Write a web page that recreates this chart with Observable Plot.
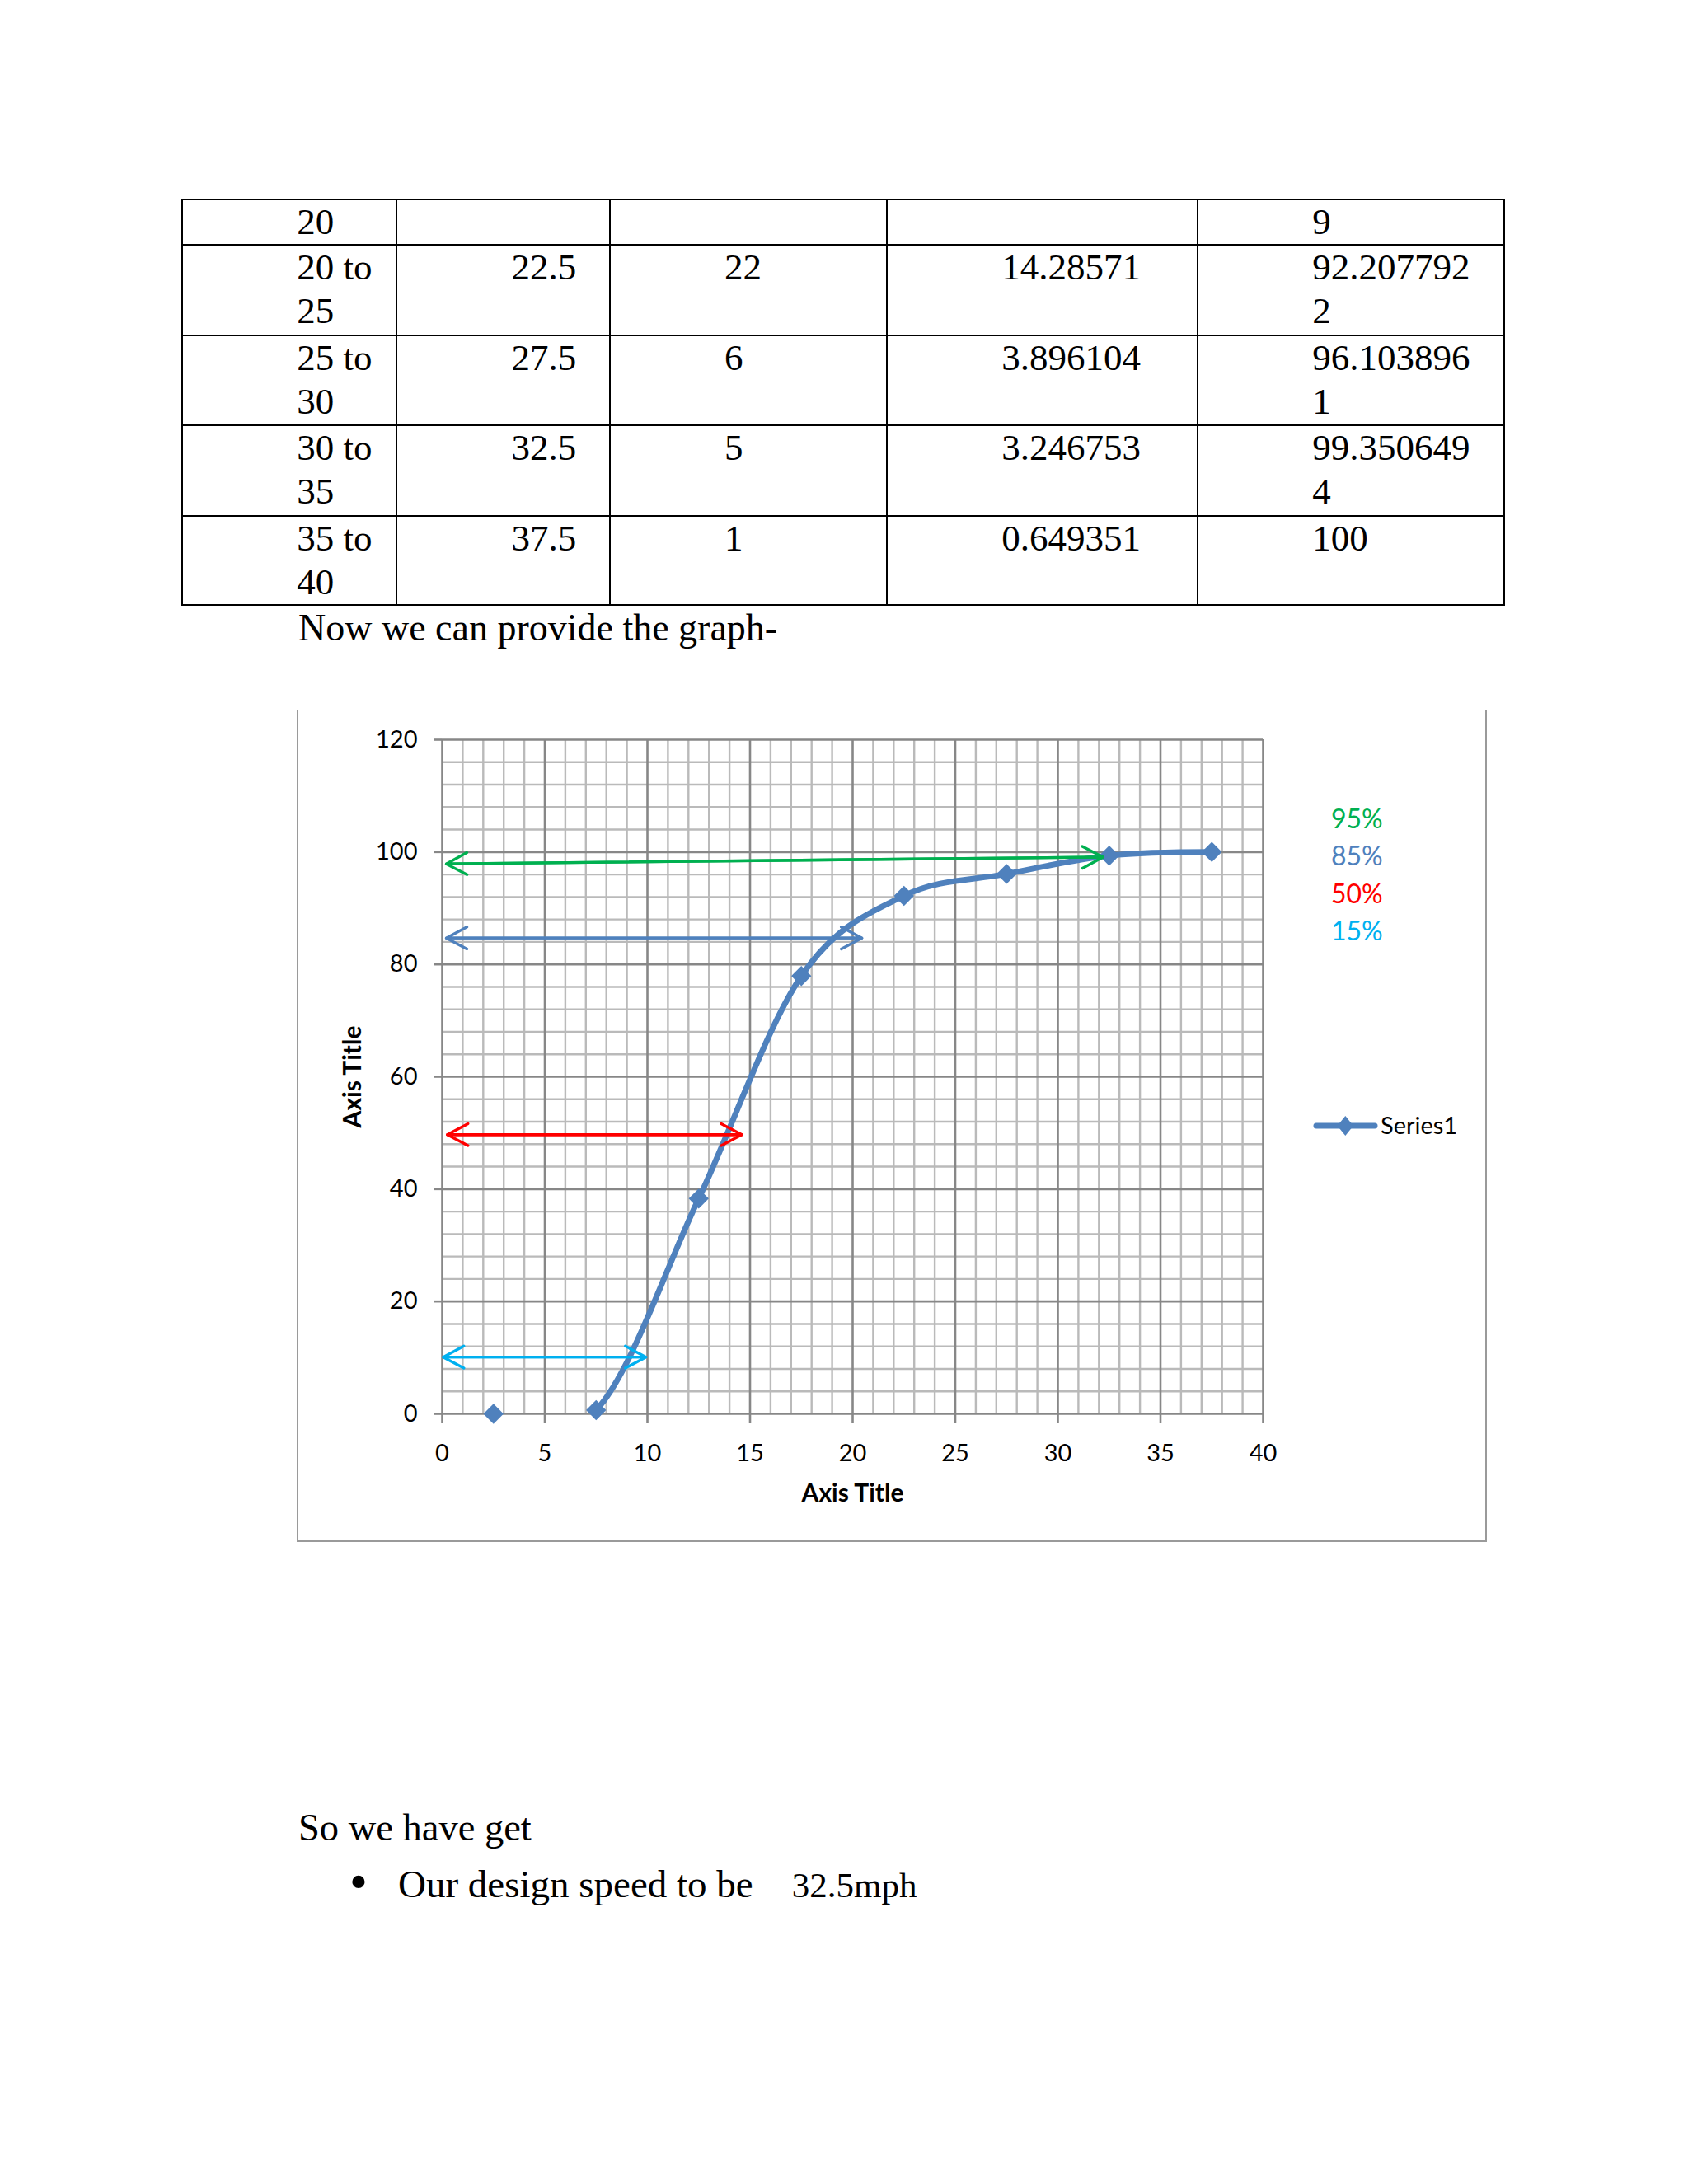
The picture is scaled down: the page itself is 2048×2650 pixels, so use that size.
<!DOCTYPE html>
<html>
<head>
<meta charset="utf-8">
<script src="https://cdn.jsdelivr.net/npm/d3@7"></script>
<script src="https://cdn.jsdelivr.net/npm/@observablehq/plot@0.6"></script>
<style>
html, body { margin: 0; padding: 0; background: #fff; }
#page { position: relative; width: 2048px; height: 2650px; overflow: hidden; background: #fff; }
table.data {
  position: absolute; left: 220.15px; top: 240.95px;
  border-collapse: collapse; table-layout: fixed; width: 1603.8px;
  font-family: 'Liberation Serif', 'Times New Roman', serif; font-size: 45px; line-height: 53px; color: #000;
}
table.data td {
  font-family: 'Liberation Serif', 'Times New Roman', serif !important;
  font-size: 45px; line-height: 53px;
  border: 2.5px solid #000; padding: 0 0 0 138px; vertical-align: top;
  overflow-wrap: anywhere; word-break: normal; white-space: normal;
}
table.data td.last { padding-right: 31px; }
#box {
  position: absolute; left: 360.4px; top: 862px; width: 1443.6px; height: 1009.3px; box-sizing: border-box;
  border-left: 2.6px solid #9a9a9a; border-right: 2.6px solid #9a9a9a; border-bottom: 2.6px solid #9a9a9a;
}
#chart { position: absolute; left: 361.7px; top: 862px; }
#overlay { position: absolute; left: 0; top: 0; pointer-events: none; }
</style>
</head>
<body>
<div id="page">
  <table class="data" id="tbl"></table>
  <div id="box"></div>
  <div id="chart"></div>
  <svg id="overlay" width="2048" height="2650" xmlns="http://www.w3.org/2000/svg"></svg>
</div>
<script>
// ---- table values (read from the page) ----
const rangeCol = ["20", "20 to 25", "25 to 30", "30 to 35", "35 to 40"];
const midCol   = ["", "22.5", "27.5", "32.5", "37.5"];
const freqCol  = ["", "22", "6", "5", "1"];
const pctCol   = ["", "14.28571", "3.896104", "3.246753", "0.649351"];
const cumCol   = ["9", "92.2077922", "96.1038961", "99.3506494", "100"];

// ---- chart series (cumulative % vs class mid speed) ----
const speeds     = [2.5, 7.5, 12.5, 17.5, 22.5, 27.5, 32.5, 37.5];
const cumulative = [0, 0.649351, 38.311688, 77.922078, 92.207792, 96.103896, 99.350649, 100];

// ---- percentile arrows ----
const arrowLabels = ["95%", "85%", "50%", "15%"];
const arrowColors = ["#00B050", "#4F81BD", "#FF0000", "#00B0F0"];
const arrowStartX = [0.2, 0.2, 0.25, 0.05];
const arrowEndX   = [32.2, 20.45, 14.6, 9.93];
const arrowStartY = [97.9, 84.7, 49.7, 10.1];
const arrowEndY   = [99.1, 84.7, 49.7, 10.1];

// ---- ticks ----
const xMajor = [0, 5, 10, 15, 20, 25, 30, 35, 40];
const yMajor = [0, 20, 40, 60, 80, 100, 120];
const xMinor = d3.range(1, 40).filter(v => v % 5 !== 0);
const yMinor = d3.range(4, 120, 4).filter(v => v % 20 !== 0);

const seriesName = "Series1";
const xTitle = "Axis Title";
const yTitle = "Axis Title";

// ---- build table ----
const tbl = document.getElementById("tbl");
const colW = [260.3, 258.5, 336.3, 376.9, 371.8];
const rowH = [55.5, 110, 108.5, 110, 108];
const cg = document.createElement("colgroup");
colW.forEach(w => { const c = document.createElement("col"); c.style.width = w + "px"; cg.appendChild(c); });
tbl.appendChild(cg);
rangeCol.forEach((r, i) => {
  const tr = document.createElement("tr");
  tr.style.height = rowH[i] + "px";
  [r, midCol[i], freqCol[i], pctCol[i], cumCol[i]].forEach((v, j) => {
    const td = document.createElement("td");
    if (j === 4) td.className = "last";
    td.textContent = v;
    tr.appendChild(td);
  });
  tbl.appendChild(tr);
});

// ---- chart ----
const points = speeds.map((s, i) => ({x: s, y: cumulative[i]}));
const arrows = arrowLabels.map((l, i) => ({
  label: l, color: arrowColors[i],
  x1: arrowStartX[i], y1: arrowStartY[i], x2: arrowEndX[i], y2: arrowEndY[i]
}));

const majorColor = "#878787";
const minorColor = "#BABABA";
const seriesColor = "#4F81BD";

const arrowMarks = arrows.flatMap(a => [
  Plot.arrow([a], {x1: "x1", y1: "y1", x2: "x2", y2: "y2", stroke: a.color, strokeWidth: 3.4, headLength: 12.5, headAngle: 56}),
  Plot.arrow([a], {x1: "x2", y1: "y2", x2: "x1", y2: "y1", stroke: a.color, strokeWidth: 3.4, headLength: 12.5, headAngle: 56})
]);

const chart = Plot.plot({
  width: 1441,
  height: 1008,
  marginLeft: 174,
  marginRight: 271,
  marginTop: 35,
  marginBottom: 155,
  style: {fontFamily: "Lato, 'Open Sans', sans-serif", background: "transparent", color: "#000", overflow: "visible"},
  x: {domain: [0, 40]},
  y: {domain: [0, 120]},
  marks: [
    Plot.gridX(xMinor, {stroke: minorColor, strokeOpacity: 1, strokeWidth: 2.4}),
    Plot.gridY(yMinor, {stroke: minorColor, strokeOpacity: 1, strokeWidth: 2.4}),
    Plot.gridX(xMajor, {stroke: majorColor, strokeOpacity: 1, strokeWidth: 2.6}),
    Plot.gridY(yMajor, {stroke: majorColor, strokeOpacity: 1, strokeWidth: 2.6}),
    Plot.axisX({ticks: xMajor, tickSize: 12, tickPadding: 25, stroke: majorColor, strokeWidth: 2.6, fill: "#000", fontSize: 29, label: null}),
    Plot.axisY({ticks: yMajor, tickSize: 10, tickPadding: 20, stroke: majorColor, strokeWidth: 2.6, fill: "#000", fontSize: 29, label: null}),
    Plot.text([xTitle], {text: d => d, frameAnchor: "bottom", textAnchor: "middle", lineAnchor: "middle", dy: 97, fontWeight: "bold", fontSize: 30, fill: "#000"}),
    Plot.text([yTitle], {text: d => d, frameAnchor: "left", textAnchor: "middle", lineAnchor: "middle", dx: -108, rotate: -90, fontWeight: "bold", fontSize: 30, fill: "#000"}),
    Plot.line(points, {x: "x", y: "y", curve: "cardinal", clip: true, stroke: seriesColor, strokeWidth: 7, strokeLinecap: "round"}),
    Plot.dot(points, {x: "x", y: "y", symbol: "diamond2", r: 11, fill: seriesColor, stroke: "none"}),
    ...arrowMarks
  ]
});
document.getElementById("chart").appendChild(chart);

// ---- overlay texts: percentile key, series legend, page text ----
const ov = d3.select("#overlay");
const keyBaselines = [1005, 1050, 1095.7, 1140.7];
arrows.forEach((a, i) => {
  ov.append("text").attr("x", 1615).attr("y", keyBaselines[i])
    .attr("font-family", "Lato, 'Open Sans', sans-serif").attr("font-size", 32)
    .attr("fill", a.color).text(a.label);
});
// series legend
ov.append("line").attr("x1", 1597).attr("x2", 1668).attr("y1", 1366).attr("y2", 1366)
  .attr("stroke", seriesColor).attr("stroke-width", 7).attr("stroke-linecap", "round");
ov.append("path").attr("d", "M1632.3,1354 L1642,1366 L1632.3,1378 L1622.6,1366 Z").attr("fill", seriesColor);
ov.append("text").attr("x", 1675).attr("y", 1376)
  .attr("font-family", "Lato, 'Open Sans', sans-serif").attr("font-size", 29).attr("fill", "#000").text(seriesName);

const serif = "'Liberation Serif', 'Times New Roman', serif";
ov.append("text").attr("x", 362).attr("y", 777).attr("font-family", serif).attr("font-size", 46).attr("fill", "#000")
  .text("Now we can provide the graph-");
ov.append("text").attr("x", 362).attr("y", 2233).attr("font-family", serif).attr("font-size", 46.5).attr("fill", "#000")
  .text("So we have get");
ov.append("text").attr("x", 435).attr("y", 2305).attr("text-anchor", "middle").attr("font-family", serif).attr("font-size", 64).attr("fill", "#000")
  .text("\u2022");
const bulletLine = ov.append("text").attr("x", 483).attr("y", 2302).attr("font-family", serif).attr("fill", "#000")
  .style("white-space", "pre");
bulletLine.append("tspan").attr("font-size", 47).text("Our design speed to be    ");
bulletLine.append("tspan").attr("font-size", 43).text("32.5mph");
</script>
</body>
</html>
